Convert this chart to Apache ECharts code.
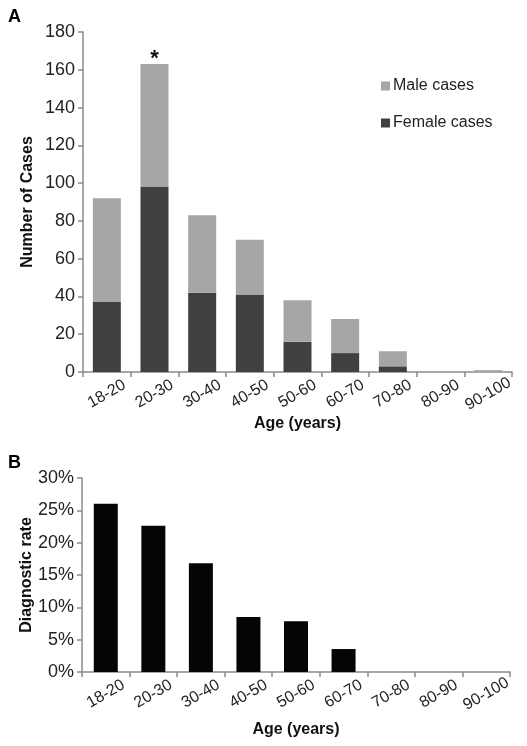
<!DOCTYPE html>
<html>
<head>
<meta charset="utf-8">
<script src="https://cdn.jsdelivr.net/npm/echarts@6/dist/echarts.min.js"></script>
<style>
html,body{margin:0;padding:0;background:#fff;}
#chart{width:527px;height:746px;}
</style>
</head>
<body>
<div id="chart"></div>
<script>
const categories = ['18-20','20-30','30-40','40-50','50-60','60-70','70-80','80-90','90-100'];
const femaleCases = [37, 98, 42, 41, 16, 10, 3, 0, 0];
const maleCases = [55, 65, 41, 29, 22, 18, 8, 0, 1];
const diagnosticRate = [26.0, 22.6, 16.8, 8.5, 7.85, 3.55, 0, 0, 0];
const countTicks = {min: 0, max: 180, interval: 20};
const rateTicks = {min: 0, max: 30, interval: 5};
const starIndex = 1;

const FONT = '"Liberation Sans", Arial, sans-serif';
const axisGray = '#8a8a8a';

const chart = echarts.init(document.getElementById('chart'), null, {renderer: 'canvas'});

function xAxisCfg(gridIndex, nameGap) {
  return {
    type: 'category', gridIndex: gridIndex, data: categories,
    name: 'Age (years)', nameLocation: 'middle', nameGap: nameGap,
    nameTextStyle: {fontFamily: FONT, fontSize: 16, fontWeight: 'bold', color: '#111'},
    axisLine: {show: true, lineStyle: {color: axisGray, width: 1.5}},
    axisTick: {show: true, length: 5, lineStyle: {color: axisGray, width: 1.5}},
    axisLabel: {rotate: 30, align: 'center', verticalAlign: 'middle', margin: 22,
      fontFamily: FONT, fontSize: 16, color: '#222'},
    splitLine: {show: false}
  };
}
function yAxisCfg(gridIndex, ticks, name, fmt) {
  return {
    type: 'value', gridIndex: gridIndex, min: ticks.min, max: ticks.max, interval: ticks.interval,
    name: name, nameLocation: 'middle', nameGap: 47, nameMoveOverlap: false,
    nameTextStyle: {fontFamily: FONT, fontSize: 16, fontWeight: 'bold', color: '#111'},
    axisLine: {show: true, lineStyle: {color: axisGray, width: 1.5}},
    axisTick: {show: true, length: 5, lineStyle: {color: axisGray, width: 1.5}},
    axisLabel: {margin: 8, fontFamily: FONT, fontSize: 18, color: '#222', formatter: fmt},
    splitLine: {show: false}
  };
}

const maleData = maleCases.map((v, i) => i === starIndex ? {
  value: v,
  label: {show: true, position: 'top', formatter: '*', fontSize: 22, fontWeight: 'bold',
    fontFamily: FONT, color: '#111', distance: -6}
} : v);

chart.setOption({
  animation: false,
  backgroundColor: '#fff',
  graphic: [
    {type: 'text', left: 8, top: 8, style: {text: 'A', font: 'bold 18px ' + FONT, fill: '#000'}},
    {type: 'text', left: 8, top: 454, style: {text: 'B', font: 'bold 18px ' + FONT, fill: '#000'}}
  ],
  legend: {
    orient: 'vertical', left: 376, top: 73, itemWidth: 9, itemHeight: 9, itemGap: 21,
    icon: 'rect',
    data: ['Male cases', 'Female cases'],
    textStyle: {fontFamily: FONT, fontSize: 16, color: '#222', padding: [0, 0, 0, -2]}
  },
  grid: [
    {left: 83, right: 15, top: 32, bottom: 374},
    {left: 82, right: 17, top: 478, bottom: 74}
  ],
  xAxis: [xAxisCfg(0, 44), xAxisCfg(1, 50)],
  yAxis: [
    yAxisCfg(0, countTicks, 'Number of Cases', '{value}'),
    yAxisCfg(1, rateTicks, 'Diagnostic rate', '{value}%')
  ],
  series: [
    {name: 'Female cases', type: 'bar', stack: 'cases', xAxisIndex: 0, yAxisIndex: 0,
      data: femaleCases, barWidth: 28, itemStyle: {color: '#404040'}},
    {name: 'Male cases', type: 'bar', stack: 'cases', xAxisIndex: 0, yAxisIndex: 0,
      data: maleData, barWidth: 28, itemStyle: {color: '#a6a6a6'}},
    {name: 'Diagnostic rate', type: 'bar', xAxisIndex: 1, yAxisIndex: 1,
      data: diagnosticRate, barWidth: 24, itemStyle: {color: '#050505'}}
  ]
});
</script>
</body>
</html>
